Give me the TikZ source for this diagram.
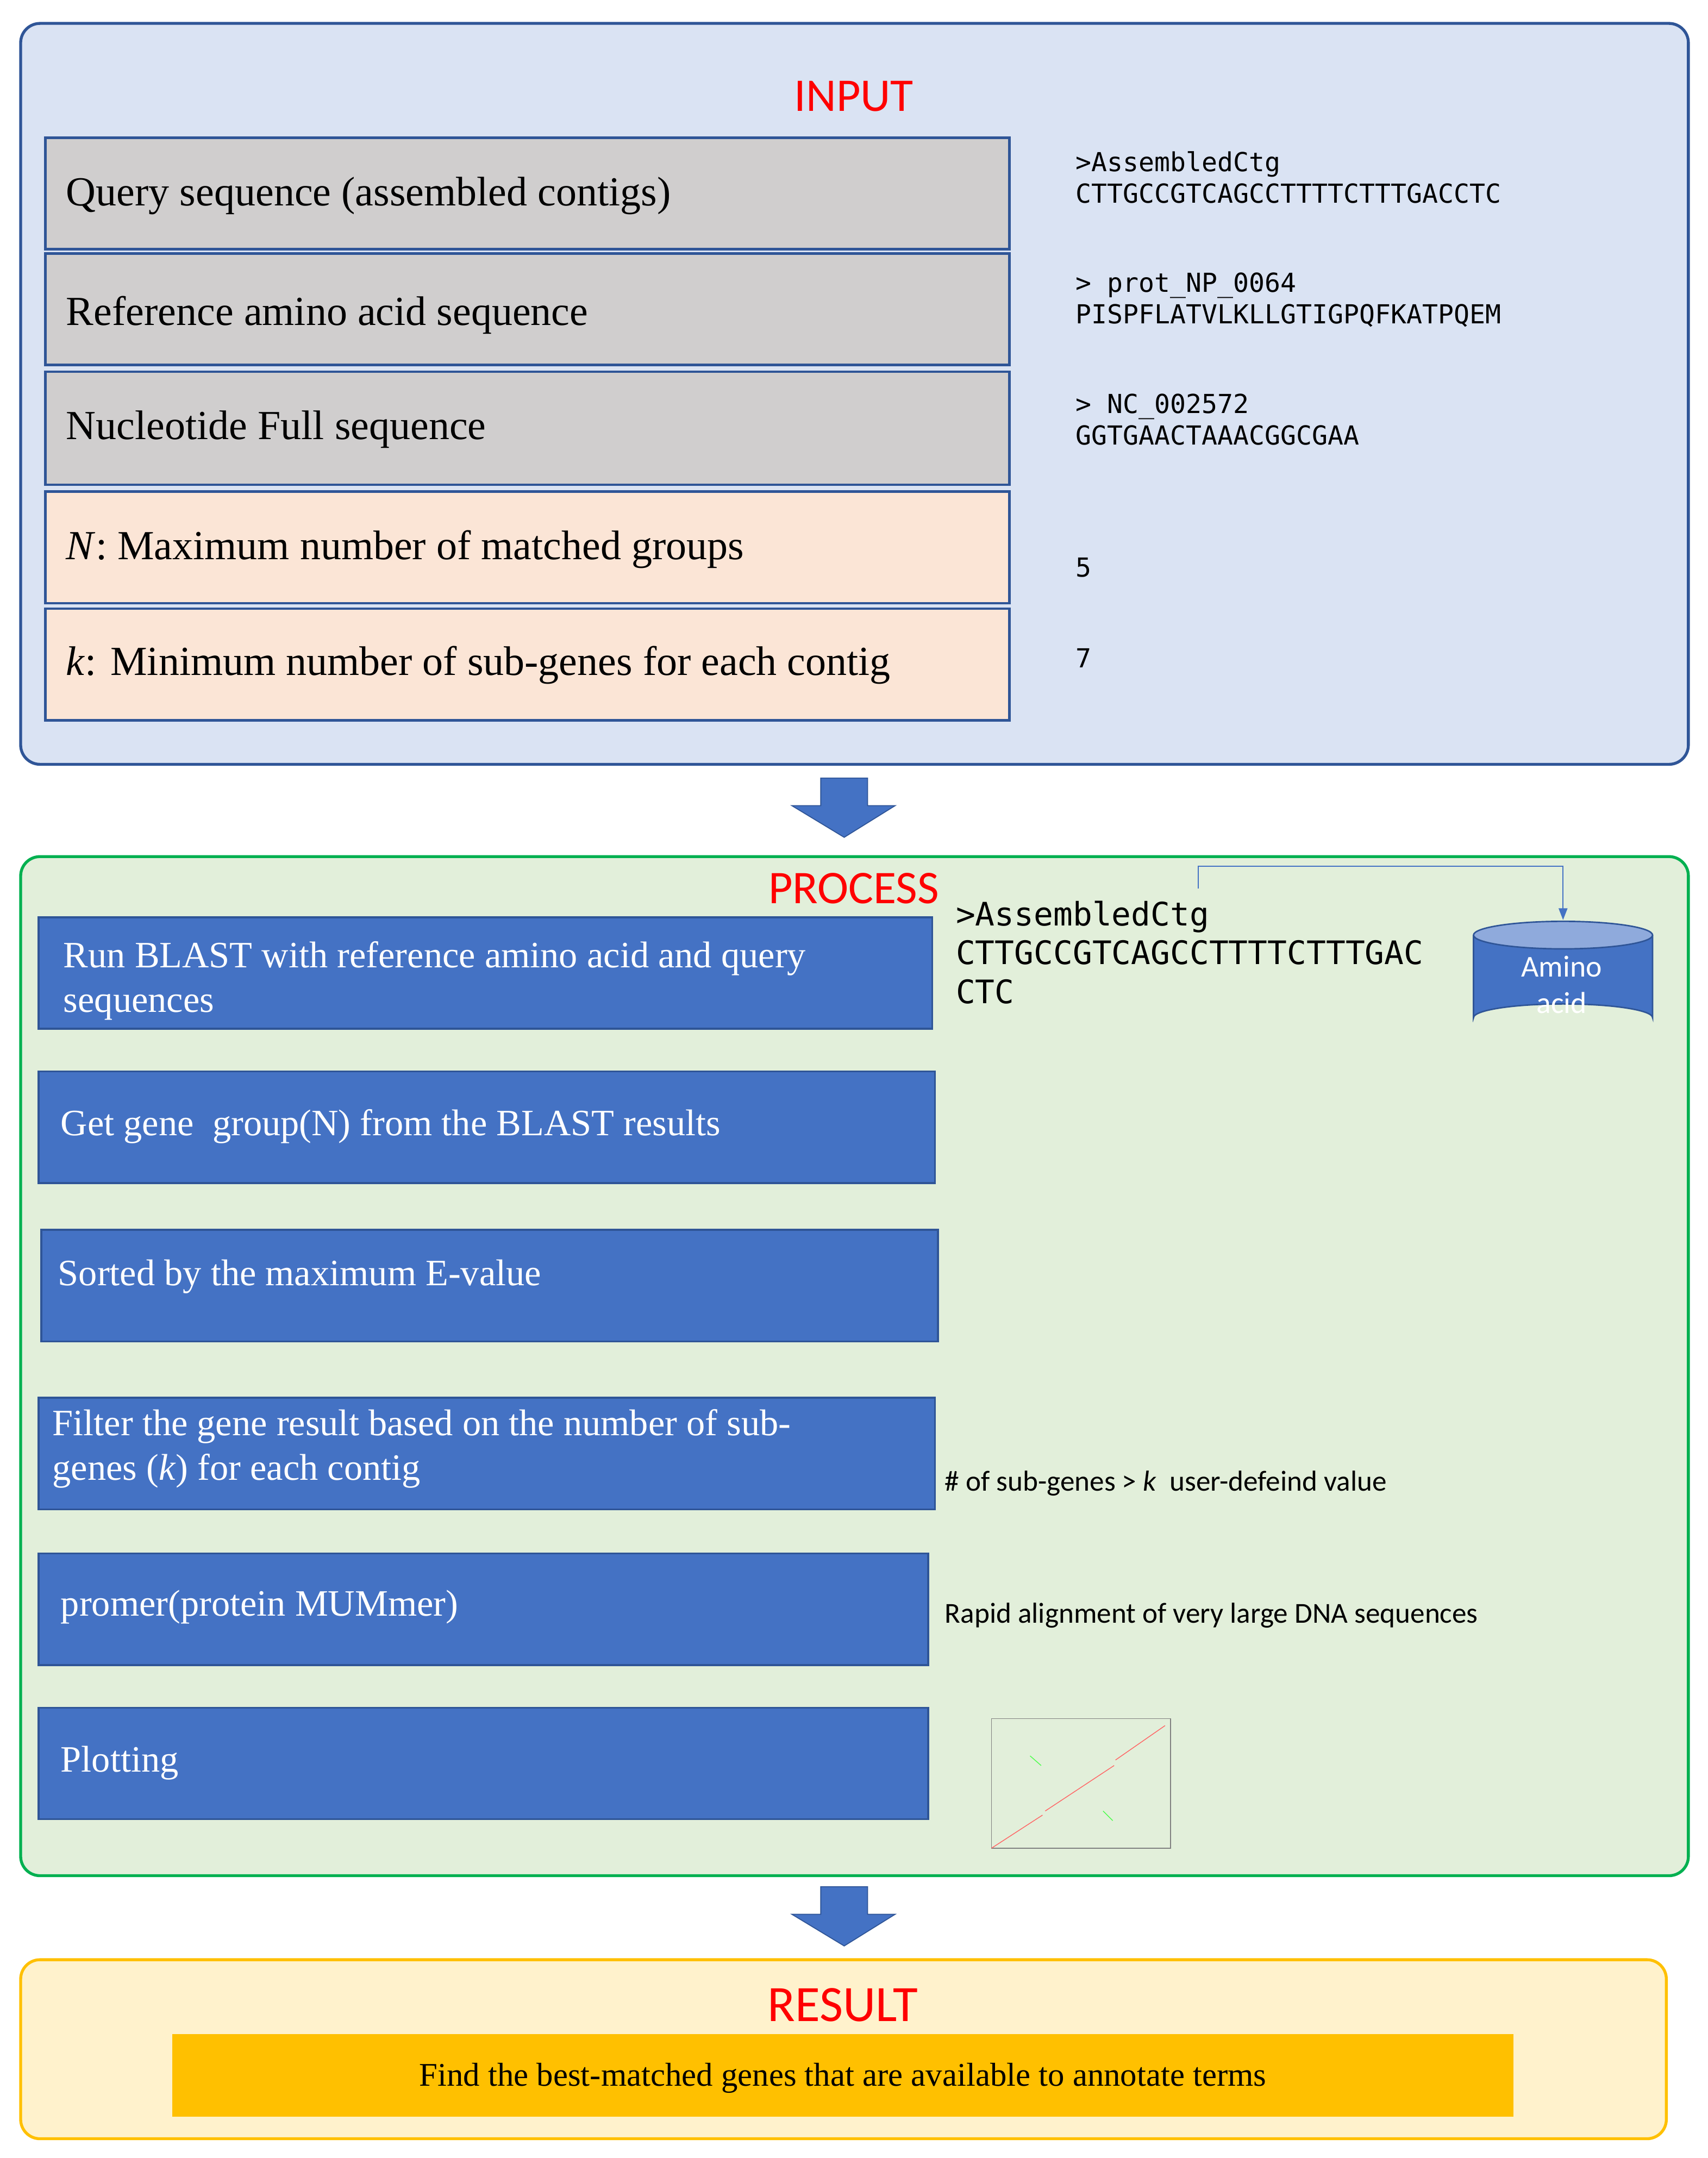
\documentclass[tikz,border=0pt]{standalone}
\usepackage{fontspec}
\setmainfont{Liberation Serif}
\newfontfamily\carl{Carlito}
\newfontfamily\dmono{DejaVu Sans Mono}
\usetikzlibrary{shapes.geometric,arrows.meta}
\definecolor{inbg}{HTML}{DAE3F3}
\definecolor{inbd}{HTML}{2F5597}
\definecolor{prbg}{HTML}{E2EFDA}
\definecolor{prbd}{HTML}{00B050}
\definecolor{rsbg}{HTML}{FFF2CC}
\definecolor{rsbd}{HTML}{FFC000}
\definecolor{gr}{HTML}{D0CECE}
\definecolor{pe}{HTML}{FBE5D6}
\definecolor{bl}{HTML}{4472C4}
\definecolor{cyl}{HTML}{8FAADC}
\newcommand{\px}[1]{\fontsize{\fpeval{#1*1.4226}pt}{\fpeval{#1*1.4226*1.2}pt}\selectfont}
\tikzset{
 panel/.style={rounded corners=20pt,line width=3pt},
 row/.style={draw=inbd,line width=2.5pt},
 rowtxt/.style={anchor=west,font=\px{30},inner sep=0},
 seq/.style={anchor=north west,font=\dmono\px{19},inner sep=0,align=left},
 bbox/.style={draw=inbd,fill=bl,line width=2pt},
 btxt/.style={anchor=west,font=\px{27},text=white,inner sep=0,align=left},
 note/.style={anchor=west,font=\carl\px{21},inner sep=0},
 title/.style={font=\carl\px{34},text=red},
 barrow/.style={fill=bl,draw=inbd,line width=1pt},
}
\begin{document}
\begin{tikzpicture}[x=0.05cm,y=-0.05cm]
\useasboundingbox (0,0) rectangle (1240,1567);
% INPUT
\draw[panel,draw=inbd,fill=inbg] (15,17) rectangle (1226,555);
\node[title] (tin) at (620,70) {INPUT};
\draw[row,fill=gr] (33,100) rectangle (733,181);
\draw[row,fill=gr] (33,184) rectangle (733,265);
\draw[row,fill=gr] (33,270) rectangle (733,352);
\draw[row,fill=pe] (33,357) rectangle (733,438);
\draw[row,fill=pe] (33,442) rectangle (733,523);
\node[rowtxt] (r1) at (48,142) {Query sequence (assembled contigs)};
\node[rowtxt] (r2) at (48,229) {Reference amino acid sequence};
\node[rowtxt] (r3) at (48,312) {Nucleotide Full sequence};
\node[rowtxt] (r4) at (48,399) {\textit{N}: Maximum number of matched groups};
\node[rowtxt] (r5) at (48,483) {\textit{k}: Minimum number of sub-genes for each contig};
\node[seq] (s1) at (781,110) {>AssembledCtg\\CTTGCCGTCAGCCTTTTCTTTGACCTC};
\node[seq] (s2) at (781,198) {> prot\_NP\_0064\\PISPFLATVLKLLGTIGPQFKATPQEM};
\node[seq] (s3) at (781,286) {> NC\_002572\\GGTGAACTAAACGGCGAA};
\node[seq,anchor=west] (s4) at (781,412) {5};
\node[seq,anchor=west] (s5) at (781,478) {7};
% arrow 1
\draw[barrow] (596,565) -- (630,565) -- (630,585) -- (650,585) -- (613,608) -- (575,585) -- (596,585) -- cycle;
% PROCESS
\draw[panel,draw=prbd,fill=prbg] (15,622) rectangle (1226,1362);
\node[title] (tpr) at (620,645) {PROCESS};
\draw[bbox] (28,666) rectangle (677,747);
\node[btxt] (b1) at (46,712) {Run BLAST with reference amino acid and query\\sequences};
\draw[bbox] (28,778) rectangle (679,859);
\node[btxt] (b2) at (44,818) {Get gene\ \ group(N) from the BLAST results};
\draw[bbox] (30,893) rectangle (681,974);
\node[btxt] (b3) at (42,927) {Sorted by the maximum E-value};
\draw[bbox] (28,1015) rectangle (679,1096);
\node[btxt] (b4) at (38,1052) {Filter the gene result based on the number of sub-\\genes (\textit{k}) for each contig};
\draw[bbox] (28,1128) rectangle (674,1209);
\node[btxt] (b5) at (44,1167) {promer(protein MUMmer)};
\draw[bbox] (28,1240) rectangle (674,1321);
\node[btxt] (b6) at (44,1280) {Plotting};
\node[seq,font=\dmono\px{23.5},anchor=north west] (ps) at (694,654) {>AssembledCtg\\CTTGCCGTCAGCCTTTTCTTTGAC\\CTC};
% cylinder
\draw[draw=inbd,fill=bl,line width=1.5pt] (1070,679) -- (1070,739) arc[start angle=180,end angle=360,x radius=65,y radius=10] -- (1200,679);
\draw[draw=inbd,fill=cyl,line width=1.5pt] (1135,679) ellipse[x radius=65,y radius=10];
\node[font=\carl\px{22},text=white,align=center] (cy) at (1134,715) {Amino\\acid};
\coordinate (c0) at (870,645);
\coordinate (c1) at (1135,668);
\draw[bl,line width=1.2pt,-{Triangle[length=12pt,width=9pt]}] (c0) -- (870,629) -- (1135,629) -- (c1);
\node[note] (n1) at (686,1077) {\# of sub-genes > \textit{k}\ \ user-defeind value};
\node[note] (n2) at (686,1173) {Rapid alignment of very large DNA sequences};
% plot
\draw[gray,line width=0.8pt] (720,1248) rectangle (850,1342);
\draw[red!60,line width=0.8pt] (720,1342) -- (757,1318);
\draw[red!60,line width=0.8pt] (759,1315) -- (809,1282);
\draw[red!60,line width=0.8pt] (810,1278) -- (846,1253);
\draw[green!70,line width=0.8pt] (748,1275) -- (756,1282);
\draw[green!70,line width=0.8pt] (801,1315) -- (808,1322);
% arrow 2
\draw[barrow] (596,1370) -- (630,1370) -- (630,1390) -- (650,1390) -- (613,1413) -- (575,1390) -- (596,1390) -- cycle;
% RESULT
\draw[panel,draw=rsbd,fill=rsbg] (15,1423) rectangle (1210,1553);
\node[title,font=\carl\px{37}] (trs) at (612,1456) {RESULT};
\fill[rsbd] (125,1477) rectangle (1099,1537);
\node[font=\px{24}] (rt) at (612,1509) {Find the best-matched genes that are available to annotate terms};
\end{tikzpicture}
\end{document}
